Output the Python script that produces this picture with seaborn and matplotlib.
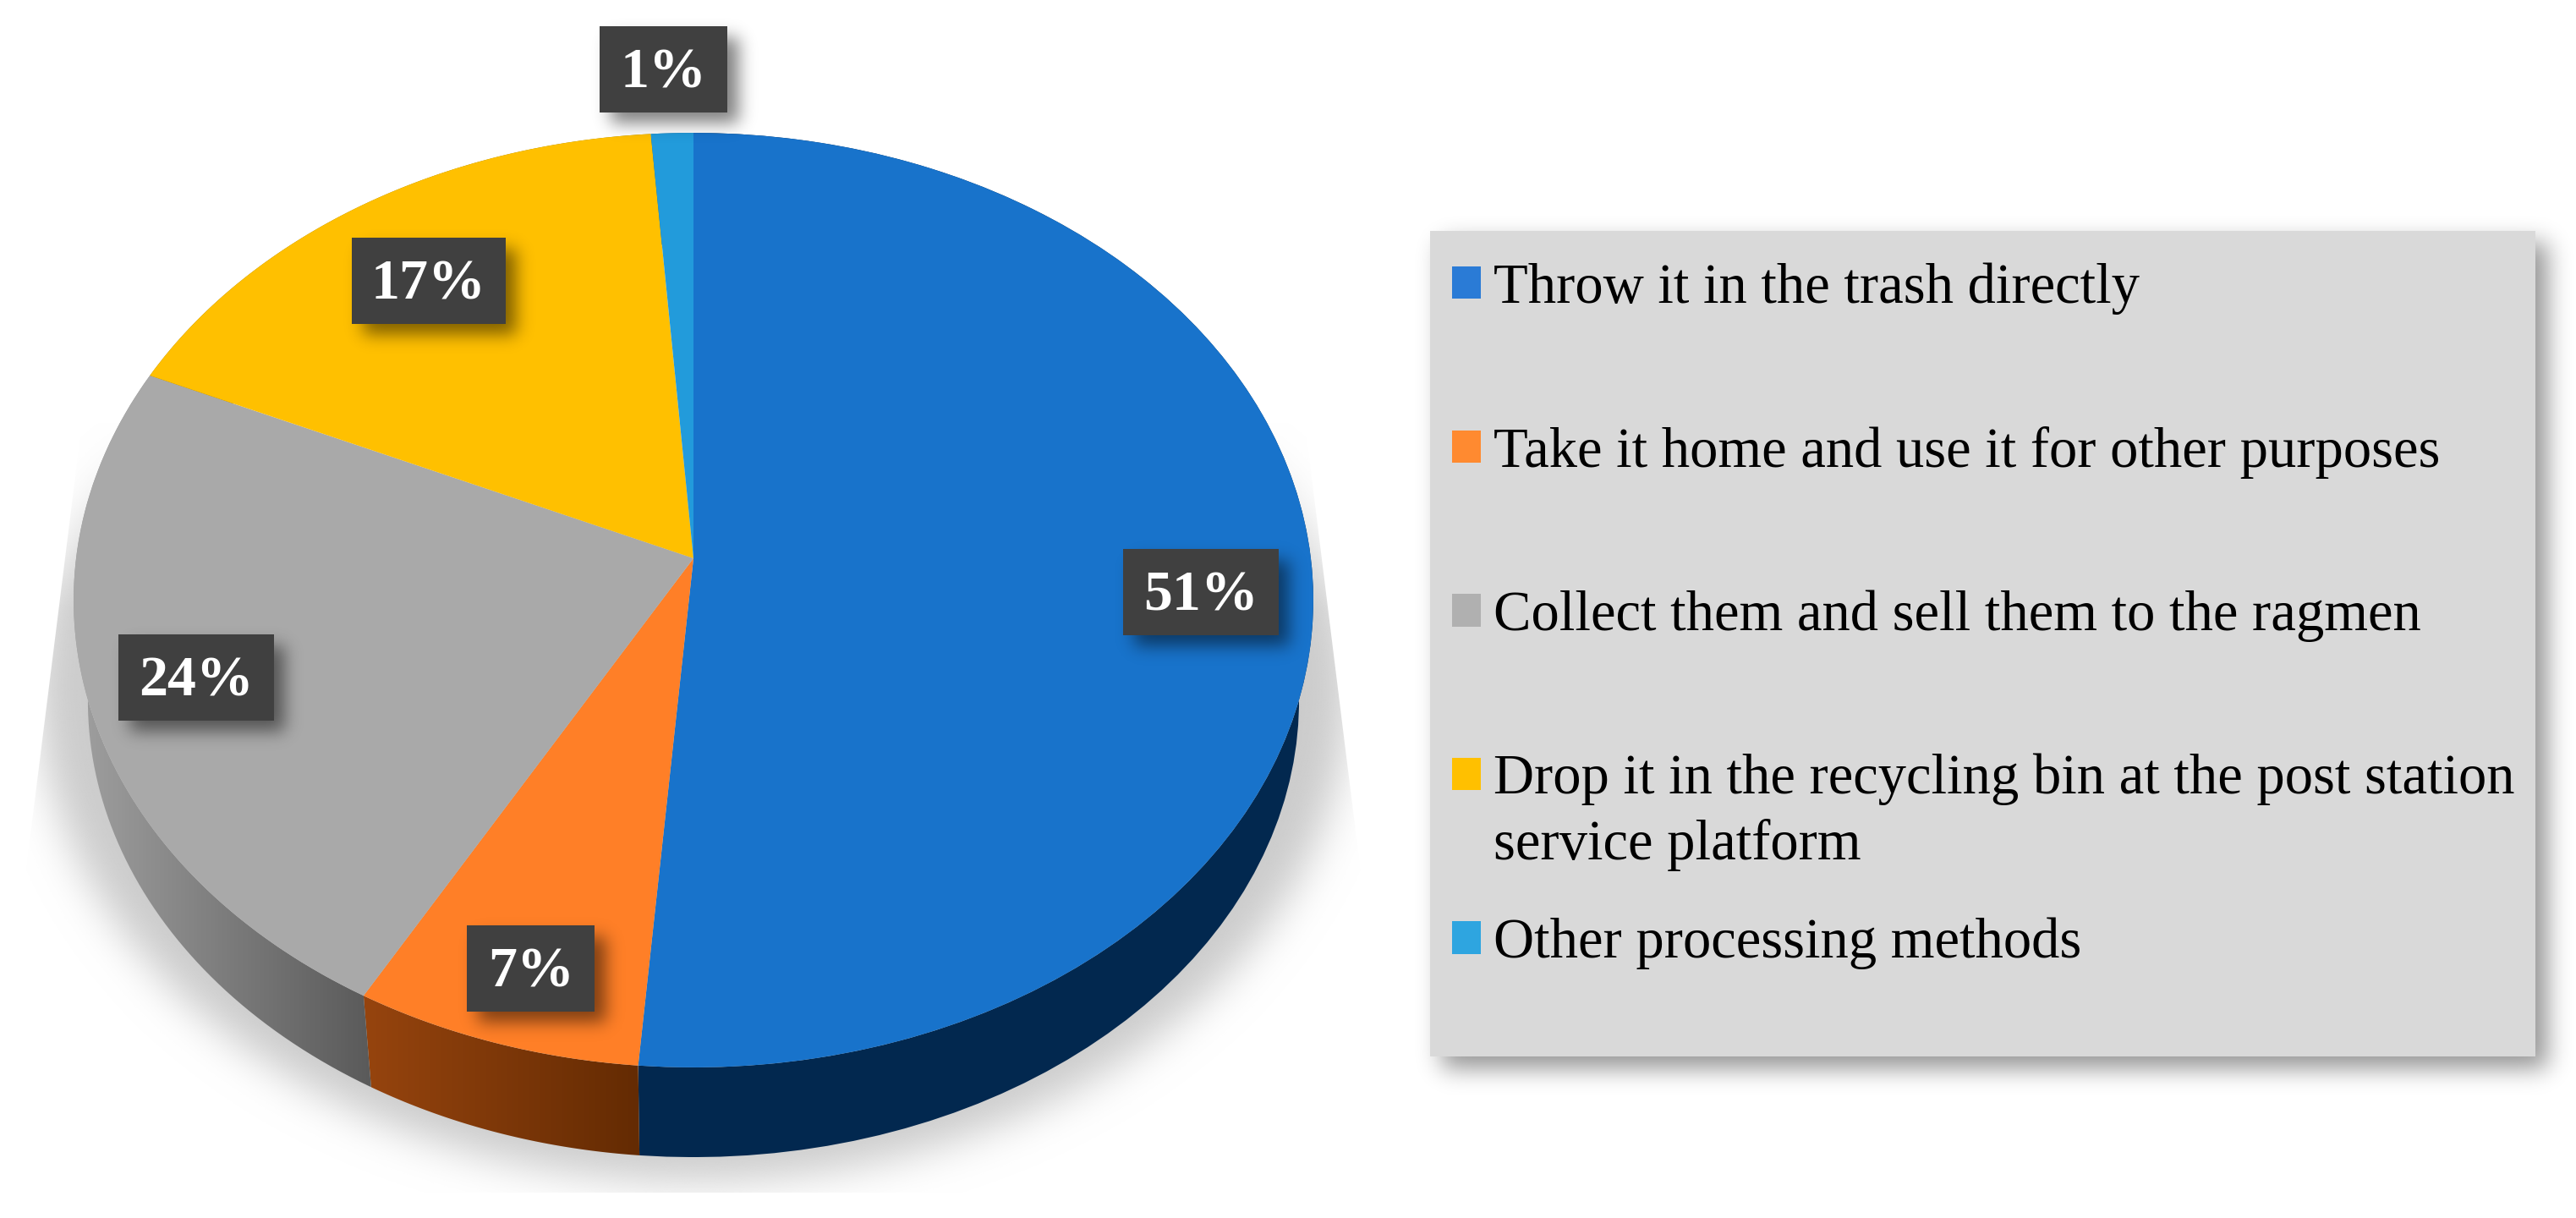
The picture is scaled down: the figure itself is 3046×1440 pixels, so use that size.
import matplotlib
matplotlib.use("Agg")
import matplotlib.pyplot as plt
import numpy as np
import seaborn as sns
from matplotlib.colors import LinearSegmentedColormap
from matplotlib.patches import Patch, Polygon, Rectangle
from matplotlib.path import Path
from matplotlib.transforms import Transform

categories = [
    "Throw it in the trash directly",
    "Take it home and use it for other purposes",
    "Collect them and sell them to the ragmen",
    "Drop it in the recycling bin at the post station",
    "Other processing methods",
]
# this entry wraps but the legend rows stay evenly spaced, so it is placed by hand
wrapped_tail = "service platform"
# labels show these rounded, the slice edges sit a bit off the whole numbers
shares = [51.3, 6.9, 23.5, 17.1, 1.2]
slice_colors = ["#1873cb", "#ff7f27", "#a9a9a9", "#ffc000", "#229bdb"]
swatch_colors = ["#2a7bd6", "#ff8a30", "#b0b0b0", "#ffc000", "#2ea5e0"]
wall_colors = [
    ("#02284f", "#02284f"),
    ("#96440e", "#642b03"),
    ("#a0a0a0", "#5a5a5a"),
    ("#a08000", "#a08000"),
    ("#156a9a", "#156a9a"),
]
label_x = [1420, 628, 232, 507, 785]
label_y = [700, 1145, 801, 332, 82]
label_w = [184, 151, 184, 182, 151]
label_h = 102

sns.set_theme(style="white")
plt.rcParams["font.family"] = ["Liberation Serif", "DejaVu Serif"]


class DiskView(Transform):
    # unit circle seen in perspective, the near edge comes out bigger
    input_dims = 2
    output_dims = 2
    is_separable = False
    has_inverse = False

    def __init__(self, scale=1.0, drop=0.0):
        super().__init__()
        self.scale = scale
        self.drop = drop

    def transform_non_affine(self, values):
        values = np.asarray(values, dtype=float)
        d = 1 + 0.0896 * values[:, 1]
        x = 820 + self.scale * 730 * values[:, 0] / d
        y = 660 + self.drop - self.scale * 548 * values[:, 1] / d
        return np.column_stack([x, y])


def blur(a, sigma):
    r = int(3 * sigma)
    k = np.exp(-0.5 * (np.arange(-r, r + 1) / sigma) ** 2)
    k = k / k.sum()
    a = np.apply_along_axis(lambda v: np.convolve(v, k, mode="same"), 0, a)
    return np.apply_along_axis(lambda v: np.convolve(v, k, mode="same"), 1, a)


def rgba_layer(alpha, rgb):
    out = np.zeros(alpha.shape + (4,))
    out[..., :3] = rgb
    out[..., 3] = alpha
    return out


def box_shadow(ax, x0, y0, x1, y1, dx=13, dy=13, sigma=10, strength=0.5, zorder=5):
    pad = 50
    xs = np.arange(x0 - pad, x1 + pad + dx, 2)
    ys = np.arange(y0 - pad, y1 + pad + dy, 2)
    xx, yy = np.meshgrid(xs, ys)
    mask = ((xx >= x0 + dx) & (xx <= x1 + dx) & (yy >= y0 + dy) & (yy <= y1 + dy)).astype(float)
    alpha = blur(mask, sigma / 2) * strength
    ax.imshow(rgba_layer(alpha, 0.0), extent=(xs[0], xs[-1], ys[-1], ys[0]), aspect="auto",
              interpolation="bilinear", zorder=zorder)


def ground_shadow(ax):
    theta = np.linspace(0, 2 * np.pi, 240)
    rim = DiskView(1.06, 100).transform(np.column_stack([np.cos(theta), np.sin(theta)]))
    xs = np.arange(-80, 1760, 4)
    ys = np.arange(400, 1500, 4)
    xx, yy = np.meshgrid(xs, ys)
    inside = Path(rim).contains_points(np.column_stack([xx.ravel(), yy.ravel()])).reshape(xx.shape)
    # shadow dies out towards the back of the disk
    alpha = blur(inside.astype(float), 6) * np.clip((yy - 480) / 240, 0, 1)
    im = ax.imshow(rgba_layer(alpha, 0.80), extent=(xs[0], xs[-1], ys[-1], ys[0]), aspect="auto",
                   interpolation="bilinear", zorder=1)
    clip = Polygon([(97, 500), (1543, 500), (1656, 1410), (-17, 1410)], closed=True,
                   facecolor="none", edgecolor="none", transform=ax.transData)
    ax.add_patch(clip)
    im.set_clip_path(clip)


def draw_walls(ax):
    top = DiskView()
    low = DiskView(0.977, 120)
    start = 0.0
    for share, (c0, c1) in zip(shares, wall_colors):
        stop = start + share / sum(shares) * 2 * np.pi
        t = np.linspace(start, stop, 80)
        xy = np.column_stack([np.sin(t), np.cos(t)])
        outline = np.vstack([top.transform(xy), low.transform(xy)[::-1]])
        shape = Polygon(outline, closed=True, facecolor="none", edgecolor="none", zorder=2)
        ax.add_patch(shape)
        cmap = LinearSegmentedColormap.from_list("wall", [c0, c1])
        im = ax.imshow(np.linspace(0, 1, 128).reshape(1, -1), cmap=cmap, aspect="auto",
                       extent=(outline[:, 0].min(), outline[:, 0].max(), outline[:, 1].max(), outline[:, 1].min()),
                       zorder=2)
        im.set_clip_path(shape)
        start = stop


fig = plt.figure(figsize=(30.46, 14.4), dpi=100, facecolor="white")
ax = fig.add_axes([0, 0, 1, 1])

wedges, _ = ax.pie(shares, colors=sns.color_palette(slice_colors), startangle=90, counterclock=False,
                   radius=1, center=(0, 0), wedgeprops={"linewidth": 0, "zorder": 3})
ax.set_aspect("auto")
ax.set_xlim(0, 3046)
ax.set_ylim(1440, 0)
ax.axis("off")
for w in wedges:
    w.set_transform(DiskView() + ax.transData)

ground_shadow(ax)
draw_walls(ax)

for share, cx, cy, w in zip(shares, label_x, label_y, label_w):
    x0, x1 = cx - w / 2, cx + w / 2
    y0, y1 = cy - label_h / 2, cy + label_h / 2
    box_shadow(ax, x0, y0, x1, y1)
    ax.add_patch(Rectangle((x0, y0), w, label_h, facecolor="#404040", edgecolor="none", zorder=6))
    ax.text(cx, cy + 5, f"{share:.0f}%", color="white", fontsize=49, fontweight="bold",
            ha="center", va="center", zorder=7)

# legend panel
box_shadow(ax, 1691, 273, 2998, 1249, dx=14, dy=14, sigma=14, strength=0.42, zorder=4)
ax.add_patch(Rectangle((1691, 273), 1307, 976, facecolor="#d9d9d9", edgecolor="none", zorder=5))
handles = [Patch(facecolor=c, edgecolor="none") for c in swatch_colors]
leg = ax.legend(handles, categories, loc="upper left", bbox_to_anchor=(1717, 310),
                bbox_transform=ax.transData, frameon=False, fontsize=48, borderpad=0, borderaxespad=0,
                handlelength=0.51, handleheight=0.51, handletextpad=0.22, labelspacing=1.98)
leg.set_zorder(8)
for t in leg.get_texts():
    t.set_color("black")
# zorder above the legend, its text has to be placed before this one reads it
ax.annotate(wrapped_tail, xy=(0, 0), xycoords=leg.get_texts()[3], xytext=(0, -56),
            textcoords="offset points", ha="left", va="bottom", fontsize=48, color="black", zorder=9)

fig.savefig("out.png", dpi=100, facecolor="white")
plt.close(fig)
